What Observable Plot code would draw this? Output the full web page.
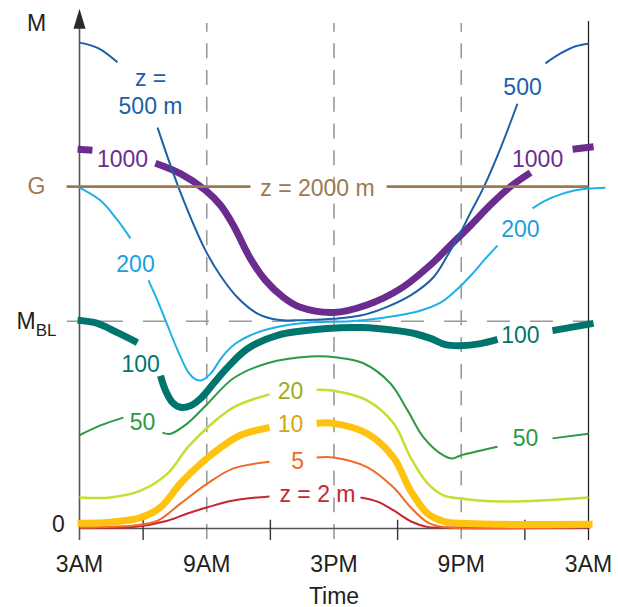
<!DOCTYPE html>
<html>
<head>
<meta charset="utf-8">
<script src="https://cdn.jsdelivr.net/npm/d3@7"></script>
<script src="https://cdn.jsdelivr.net/npm/@observablehq/plot@0.6"></script>
<style>
  html, body { margin: 0; padding: 0; background: #fff; }
  #chart { width: 618px; height: 607px; }
</style>
</head>
<body>
<div id="chart"></div>
<script>
// ---- axis values ----
const xTickHours = [3, 9, 15, 21, 27];
const xTickLabels = ["3AM", "9AM", "3PM", "9PM", "3AM"];
const minorTickHours = [6, 12, 18, 24];
const dashedHours = [9, 15, 21];
const levelNames = ["M", "G", "MBL"];
const levelValues = [97.5, 66, 40];
const zeroLabel = ["0"];
const M_BL = 40;

// ---- curves: [hour, wind speed] (null = gap for label) ----
const z2000 = [[2.39, 66], [11.06, 66], null, [17.48, 66], [27, 66]];
const z1000 = [[2.91, 73.2], [3.61, 73.0], null,
  [6.58, 70.5], [7.76, 68.5], [8.94, 65.3], [9.65, 62.4], [10.26, 58.5], [11.06, 52.1],
  [11.77, 47.9], [12.62, 44.6], [13.42, 42.7], [14.98, 41.7], [16.58, 43.2], [18.14, 46.3],
  [19.69, 51.4], [20.35, 54.1], [21.44, 58.5], [22.38, 62.5], [23.32, 66.0], [24.27, 68.7], null,
  [26.25, 73.2], [27.24, 73.7]];
const z500 = [[3, 93.8], [3.9, 92.7], [4.79, 90.0], null,
  [6.68, 77.4], [7.76, 64.9], [8.94, 53.7], [9.65, 48.8], [10.45, 44.6], [11.39, 41.5],
  [12.34, 40.3], [13.42, 40.2], [14.98, 40.5], [16.25, 41.1], [17.33, 42.5], [18.61, 45.0],
  [19.69, 48.5], [20.35, 52.7], [20.96, 57.1], [21.44, 61.0], [22.05, 65.8], [22.85, 73.4],
  [23.65, 82.0], null,
  [24.97, 89.8], [25.68, 91.7], [26.39, 93.1], [27, 93.6]];
const z200 = [[3, 65.8], [3.99, 63.3], [4.74, 59.8], [5.40, 56.0], null,
  [6.25, 47.9], [6.68, 44.0], [7.15, 39.2], [7.67, 34.0], [8.14, 30.1], [8.47, 28.8],
  [8.75, 28.6], [9.18, 29.9], [9.74, 33.2], [10.36, 35.7], [11.06, 37.3], [12.01, 38.6],
  [13.89, 39.8], [15.78, 40.0], [17.33, 40.7], [18.94, 41.9], [20.02, 43.6], [20.73, 45.9],
  [21.44, 48.8], [22.14, 52.1], [22.71, 54.6], null,
  [24.36, 61.8], [24.97, 63.3], [25.68, 64.5], [26.39, 65.3], [27, 65.6], [27.8, 65.8]];
const z100 = [[2.91, 40.2], [3.85, 39.6], [4.79, 37.8], [5.73, 35.9], null,
  [6.82, 29.5], [7.06, 26.6], [7.39, 24.3], [7.76, 23.4], [8.23, 23.7], [8.71, 25.1],
  [9.32, 28.0], [9.98, 31.1], [10.92, 34.7], [12.34, 37.3], [14.69, 38.6], [16.25, 38.8],
  [17.99, 38.2], [18.84, 37.6], [19.55, 36.7], [20.26, 35.5], [20.96, 35.3], [21.91, 35.7],
  [22.71, 36.5], null,
  [25.30, 38.2], [27.24, 39.6]];
const z50 = [[3, 18.0], [3.99, 19.9], [5.07, 21.4], null,
  [6.91, 18.5], [7.29, 18.3], [8.09, 20.3], [9.04, 24.1], [10.26, 29.0], [11.86, 31.9],
  [13.89, 33.2], [15.17, 33.0], [16.39, 31.9], [17.66, 28.0], [18.47, 22.8], [19.22, 17.6],
  [20.16, 14.1], [20.59, 13.5], [20.96, 14.1], [22.71, 15.8], null,
  [25.30, 17.4], [27, 18.3]];
const z20 = [[3, 6.0], [4.46, 6.0], [5.88, 7.3], [7.15, 10.6], [8.09, 15.6], [9.04, 19.5],
  [10.26, 23.4], [11.96, 25.9], null,
  [14.18, 26.8], [14.98, 26.6], [16.58, 24.7], [17.81, 20.3], [18.61, 13.7], [19.41, 8.7],
  [20.16, 6.4], [20.96, 5.8], [22.85, 5.2], [27, 6.0]];
const z10 = [[2.91, 1.0], [4.46, 1.2], [5.88, 2.1], [6.82, 4.1], [7.76, 8.7], [8.71, 12.5],
  [9.65, 15.6], [10.59, 18.0], [11.96, 19.5], null,
  [14.18, 20.3], [14.98, 20.3], [16.58, 18.3], [17.81, 13.7], [18.61, 7.3], [19.41, 2.9],
  [20.16, 1.4], [20.96, 1.0], [22.85, 0.8], [27.19, 0.8]];
const z5 = [[3, 0.2], [5.55, 0.6], [6.68, 1.5], [7.76, 4.8], [9.04, 8.7], [10.26, 11.6],
  [11.96, 12.9], null,
  [14.18, 13.7], [14.98, 13.7], [16.58, 11.8], [17.81, 7.9], [18.61, 4.1], [19.41, 1.2],
  [20.16, 0.3], [27.09, 0.3]];
const z2 = [[3, 0.2], [5.55, 0.3], [7.15, 1.5], [8.09, 2.9], [9.04, 4.1], [10.26, 5.4],
  [11.96, 6.2], null,
  [16.25, 6.0], [17.05, 5.2], [17.81, 3.5], [18.61, 1.4], [19.41, 0.3], [20.16, 0.2], [27.09, 0.2]];

// ---- curve labels ----
const labelTexts = ["z =\n500 m", "500", "1000", "1000", "z = 2000 m", "200", "200",
  "100", "100", "50", "50", "20", "10", "5", "z = 2 m"];
const labelHours = [6.35, 23.89, 5.03, 24.6, 14.22, 5.64, 23.79, 5.88, 23.79, 5.97, 24.03, 12.95, 12.95, 13.28, 14.22];
const labelSpeeds = [84.4, 85.5, 71.6, 71.6, 66.0, 51.2, 58.1, 31.9, 37.6, 20.7, 17.6, 26.8, 20.3, 13.3, 6.9];
const labelColors = ["#1c60a8", "#1c60a8", "#6b2c90", "#6b2c90", "#9c7a50", "#1a9fdc", "#1a9fdc",
  "#00756d", "#00756d", "#2b9a44", "#2b9a44", "#9dac22", "#d9a412", "#f26a25", "#c3282f"];

const labels = labelTexts.map((t, i) => ({text: t, h: labelHours[i], v: labelSpeeds[i], color: labelColors[i]}));
const levels = levelNames.map((n, i) => ({name: n, v: levelValues[i], color: n === "G" ? "#9c7a50" : "#231f20"}));

const tickMap = new Map(xTickHours.map((h, i) => [h, xTickLabels[i]]));
const fx = d => (d ? d[0] : null), fy = d => (d ? d[1] : null);
const font = "'Liberation Sans', Arial, Helvetica, sans-serif";
const fs = 23;

const arrowHead = {
  draw(context, l, r) {
    context.moveTo(-r, 0);
    context.lineTo(0, -l);
    context.lineTo(r, 0);
    context.closePath();
  }
};

function curve(data, color, width) {
  return Plot.line(data, {x: fx, y: fy, stroke: color, strokeWidth: width, curve: "catmull-rom", strokeLinecap: "butt", strokeLinejoin: "round"});
}

const plot = Plot.plot({
  width: 618,
  height: 607,
  marginLeft: 79,
  marginRight: 30,
  marginTop: 10,
  marginBottom: 79,
  x: {domain: [3, 27]},
  y: {domain: [0, 100], axis: null},
  style: {fontFamily: font, fontSize: fs + "px", color: "#231f20", background: "white", overflow: "visible"},
  marks: [
    // guides
    Plot.ruleX(dashedHours, {y1: 97.5, y2: -2.3, stroke: "#9a9a9a", strokeWidth: 1.6, strokeDasharray: "15,11.7", strokeDashoffset: 6.3}),
    Plot.ruleY([M_BL], {x1: 2.43, x2: 27.1, stroke: "#9a9a9a", strokeWidth: 1.6, strokeDasharray: "23,20", strokeDashoffset: 10}),
    // axes
    Plot.ruleX([3], {y1: -2.3, y2: 96.5, stroke: "#555", strokeWidth: 1.6}),
    Plot.ruleX([27], {y1: -2.3, y2: 97.9, stroke: "#222", strokeWidth: 1.3}),
    Plot.ruleY([0], {x1: 3, x2: 27, stroke: "#555", strokeWidth: 1.6}),
    Plot.ruleX(minorTickHours, {y1: -2.3, y2: 1.6, stroke: "#333", strokeWidth: 1.4}),
    Plot.vector([0], {x: 3, y: 96.5, length: 20, r: 6, anchor: "start", shape: arrowHead, fill: "#2a2a2a", stroke: "none"}),
    Plot.axisX(xTickHours, {tickFormat: d => tickMap.get(d), tickSize: 0, tickPadding: 27, fontSize: fs,
      label: "Time", labelAnchor: "center", labelOffset: 75, labelArrow: "none"}),
    Plot.text(levels, {x: () => 3, y: "v", text: "name", fill: "color", dx: -43, textAnchor: "middle", fontSize: fs}),
    Plot.text(zeroLabel, {x: () => 3, y: () => 0, text: d => d, dx: -21, dy: -4, textAnchor: "middle", fontSize: fs, fill: "#231f20"}),
    // curves
    curve(z2, "#c3282f", 2),
    curve(z5, "#f26a25", 2),
    curve(z10, "#ffc20f", 7),
    curve(z20, "#c8dc32", 2.5),
    curve(z50, "#2b9a44", 2),
    curve(z100, "#00756d", 7),
    curve(z200, "#1eb0e8", 2),
    curve(z1000, "#6b2c90", 7),
    curve(z500, "#1c60a8", 2),
    curve(z2000, "#9c7a50", 2.8),
    // labels
    Plot.text(labels, {x: "h", y: "v", text: "text", fill: "color", fontSize: fs, lineHeight: 1.22, textAnchor: "middle"})
  ]
});

// subscript for M_BL
d3.select(plot).selectAll("text").filter(function () { return this.textContent === "MBL"; })
  .each(function () {
    this.textContent = "M";
    d3.select(this).append("tspan").attr("font-size", 17).attr("dy", 7).text("BL");
  });

document.getElementById("chart").appendChild(plot);
</script>
</body>
</html>
